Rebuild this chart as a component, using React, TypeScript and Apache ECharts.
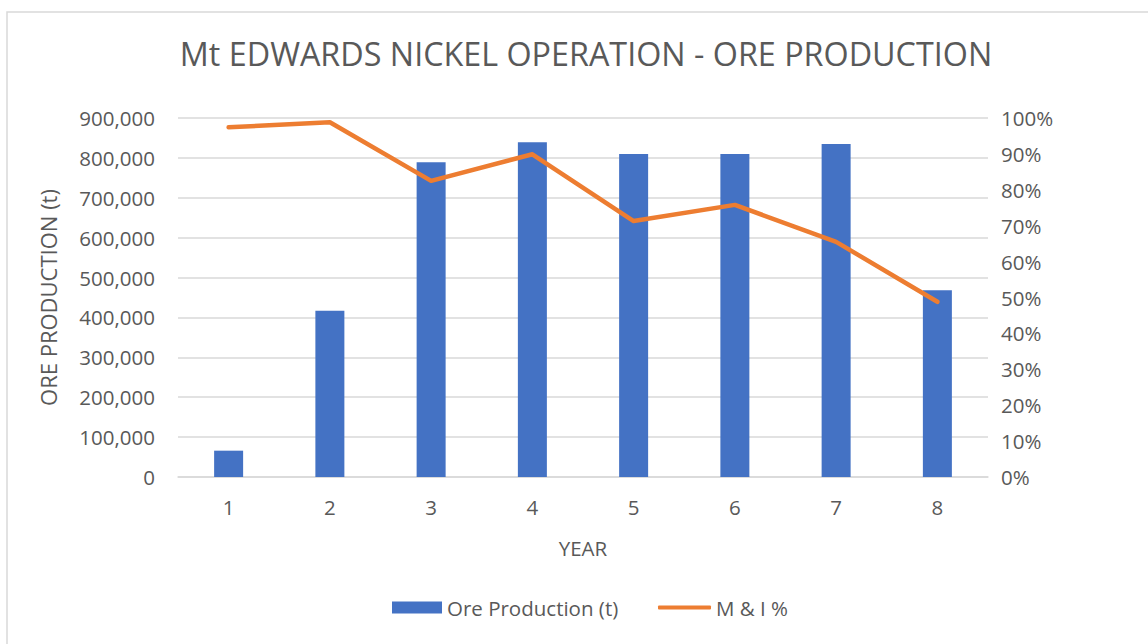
import React, { useEffect, useRef } from "react";
import * as echarts from "echarts";

const years = ["1", "2", "3", "4", "5", "6", "7", "8"];
const oreProduction = [66000, 417000, 789000, 839000, 810000, 810000, 835000, 468000];
const miPercent = [97.4, 98.8, 82.5, 89.9, 71.3, 75.8, 65.5, 48.8];

const FONT = "'Open Sans', sans-serif";
const GREY = "#595959";
const FS = 20.5;

export default function App() {
  const ref = useRef<HTMLDivElement>(null);
  useEffect(() => {
    if (!ref.current) return;
    document.body.style.margin = "0";
    const chart = echarts.init(ref.current, undefined, { renderer: "svg" });
    chart.setOption({
      animation: false,
      backgroundColor: "#ffffff",
      textStyle: { fontFamily: FONT, color: GREY },
      title: {
        text: "Mt EDWARDS NICKEL OPERATION - ORE PRODUCTION",
        left: 581,
        top: 32,
        textAlign: "center",
        textStyle: {
          fontFamily: FONT,
          fontWeight: "normal",
          fontSize: 32.3,
          color: GREY,
        },
      },
      graphic: [
        {
          type: "rect",
          shape: { x: 7, y: 12, width: 1200, height: 700 },
          style: { fill: "none", stroke: "#d9d9d9", lineWidth: 1.5 },
          silent: true,
          z: -1,
        },
      ],
      legend: [
        {
          left: 387,
          top: 592,
          itemWidth: 50,
          itemHeight: 12,
          textStyle: { fontFamily: FONT, fontSize: FS, color: GREY },
          data: [{ name: "Ore Production (t)", icon: "rect" }],
        },
        {
          left: 653,
          top: 592,
          itemWidth: 53,
          itemHeight: 4,
          textStyle: { fontFamily: FONT, fontSize: FS, color: GREY },
          data: [{ name: "M & I %", icon: "roundRect" }],
        },
      ],
      grid: { left: 178, right: 160, top: 118, bottom: 167 },
      xAxis: {
        type: "category",
        data: years,
        name: "YEAR",
        nameLocation: "middle",
        nameGap: 60,
        nameTextStyle: { fontFamily: FONT, fontSize: FS, color: GREY },
        axisLine: { lineStyle: { color: "#d9d9d9", width: 1.5 } },
        axisTick: { show: false },
        axisLabel: { fontFamily: FONT, fontSize: FS, color: GREY, margin: 19 },
      },
      yAxis: [
        {
          type: "value",
          min: 0,
          max: 900000,
          interval: 100000,
          name: "ORE PRODUCTION (t)",
          nameLocation: "middle",
          nameGap: 119,
          nameTextStyle: { fontFamily: FONT, fontSize: 22, color: GREY },
          axisLine: { show: false },
          axisTick: { show: false },
          splitLine: { lineStyle: { color: "#d9d9d9", width: 1.5 } },
          axisLabel: {
            fontFamily: FONT,
            fontSize: FS,
            color: GREY,
            margin: 23,
            formatter: (v: number) => v.toLocaleString("en-US"),
          },
        },
        {
          type: "value",
          min: 0,
          max: 100,
          interval: 10,
          axisLine: { show: false },
          axisTick: { show: false },
          splitLine: { show: false },
          axisLabel: {
            fontFamily: FONT,
            fontSize: FS,
            color: GREY,
            margin: 13,
            formatter: (v: number) => v + "%",
          },
        },
      ],
      series: [
        {
          name: "Ore Production (t)",
          type: "bar",
          data: oreProduction,
          barWidth: 29,
          itemStyle: { color: "#4472C4" },
        },
        {
          name: "M & I %",
          type: "line",
          yAxisIndex: 1,
          data: miPercent,
          symbol: "none",
          lineStyle: { color: "#ED7D31", width: 4.5, cap: "round", join: "round" },
          itemStyle: { color: "#ED7D31" },
        },
      ],
    });
    return () => chart.dispose();
  }, []);
  return <div ref={ref} style={{ width: 1148, height: 644 }} />;
}
